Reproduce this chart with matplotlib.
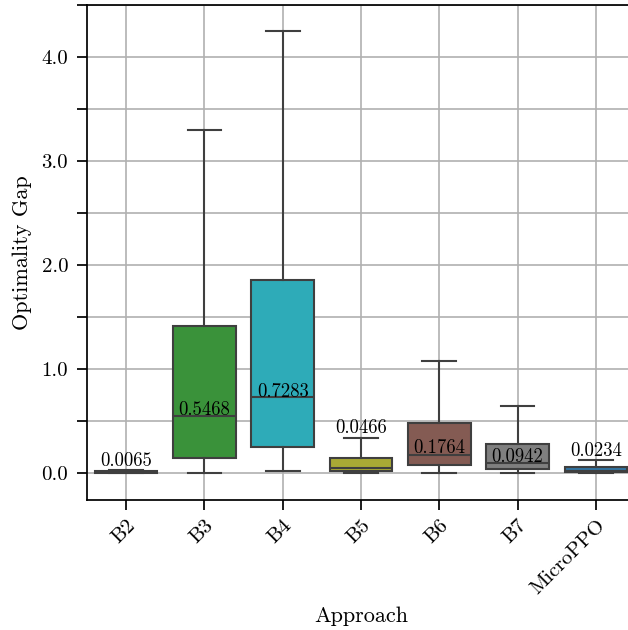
import matplotlib
matplotlib.use("Agg")
import matplotlib.pyplot as plt
import matplotlib.ticker as mticker
import seaborn as sns

approaches = ['B2', 'B3', 'B4', 'B5', 'B6', 'B7', 'MicroPPO']
med = [0.0065, 0.5468, 0.7283, 0.0466, 0.1764, 0.0942, 0.0234]
q1 = [0.0, 0.144, 0.25, 0.016, 0.08, 0.035, 0.008]
q3 = [0.02, 1.41, 1.856, 0.147, 0.478, 0.282, 0.06]
whislo = [0.0, 0.0, 0.02, 0.0, 0.0, 0.0, 0.0]
whishi = [0.03, 3.30, 4.25, 0.34, 1.077, 0.644, 0.125]
# where the median labels sit
label_y = [0.067, 0.557, 0.734, 0.38, 0.19, 0.11, 0.16]
colors = ['tab:red', 'tab:green', 'tab:cyan', 'tab:olive', 'tab:brown', 'tab:gray', 'tab:blue']

plt.rcParams['font.family'] = 'serif'
plt.rcParams['font.serif'] = ['cmr10']
plt.rcParams['mathtext.fontset'] = 'cm'
plt.rcParams['axes.formatter.use_mathtext'] = True

fig = plt.figure(figsize=(6.28, 6.30), dpi=100)
ax = fig.add_axes([87 / 628, 1 - 500 / 630, (635 - 87) / 628, (500 - 5) / 630])

stats = []
for i in range(len(approaches)):
    stats.append(dict(med=med[i], q1=q1[i], q3=q3[i], whislo=whislo[i], whishi=whishi[i], label=approaches[i]))

line_c = '#3f3f3f'
bp = ax.bxp(stats, positions=range(len(approaches)), widths=0.8, patch_artist=True, showfliers=False,
            boxprops=dict(edgecolor=line_c, linewidth=1.5, zorder=2),
            medianprops=dict(color=line_c, linewidth=1.5, zorder=4),
            whiskerprops=dict(color=line_c, linewidth=1.5, zorder=4),
            capprops=dict(color=line_c, linewidth=1.5, zorder=4),
            capwidths=0.43)
for patch, c in zip(bp['boxes'], colors):
    patch.set_facecolor(sns.desaturate(c, 0.75))

for i, m in enumerate(med):
    ax.text(i, label_y[i], "{:.4f}".format(m), ha='center', va='baseline', fontsize=13.5, zorder=5)

ax.set_xlim(-0.5, 6.5)
ax.set_ylim(-0.26, 4.5)
ax.yaxis.set_major_locator(mticker.MultipleLocator(0.5))
ax.yaxis.set_major_formatter(mticker.FuncFormatter(lambda v, p: "{:.1f}".format(v) if abs(v - round(v)) < 1e-6 else ""))
ax.set_xticks(range(len(approaches)))
ax.set_xticklabels(approaches, rotation=45, ha='right', rotation_mode='anchor', va='top')
ax.tick_params(axis='both', labelsize=15, width=1.25, length=7, color='black')
ax.tick_params(axis='y', pad=6.5)
ax.tick_params(axis='x', pad=5)
ax.grid(True, color='#b0b0b0', linewidth=1.2)
for gl in ax.get_xgridlines() + ax.get_ygridlines():
    gl.set_zorder(3)
for s in ax.spines.values():
    s.set_linewidth(1.25)
    s.set_color('black')
    s.set_zorder(5)

ax.set_xlabel('Approach', fontsize=16, labelpad=6)
ax.set_ylabel('Optimality Gap', fontsize=16, labelpad=7)

fig.savefig('out.png', dpi=100)
